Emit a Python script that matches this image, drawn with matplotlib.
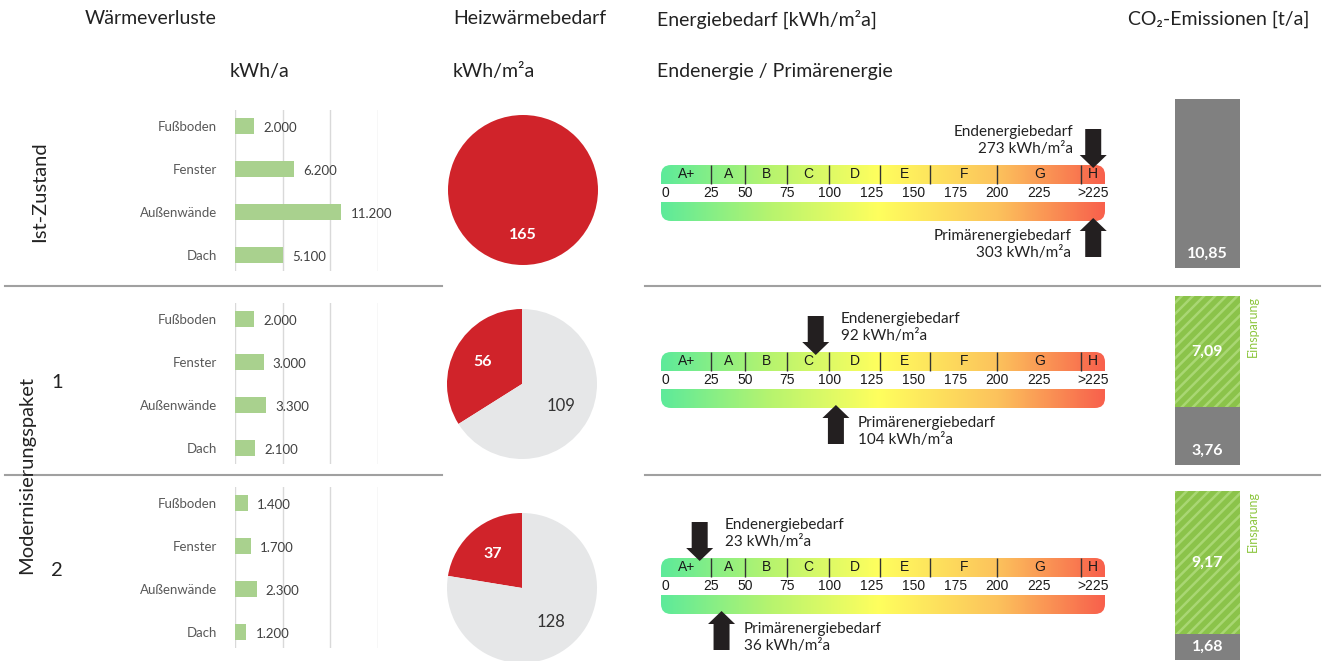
import numpy as np
import matplotlib
matplotlib.use('Agg')
import matplotlib.pyplot as plt
from matplotlib.colors import LinearSegmentedColormap
from matplotlib.patches import FancyBboxPatch, Rectangle

plt.rcParams['font.family'] = ['Lato', 'DejaVu Sans']
plt.rcParams['hatch.linewidth'] = 1.8

# ---- data ----
categories = ['Fußboden', 'Fenster', 'Außenwände', 'Dach']
loss_ist = [2000, 6200, 11200, 5100]
loss_p1 = [2000, 3000, 3300, 2100]
loss_p2 = [1400, 1700, 2300, 1200]

heat_ref = 165
heat_demand = [165, 56, 37]

end_energy = [273, 92, 23]
primary_energy = [303, 104, 36]

class_names = ['A+', 'A', 'B', 'C', 'D', 'E', 'F', 'G', 'H']
class_bounds = [0, 30, 50, 75, 100, 130, 160, 200, 250, 264]
scale_tick_at = [0, 30, 50, 75, 100, 125, 150, 175, 200, 225, 257]
scale_tick_lbl = ['0', '25', '50', '75', '100', '125', '150', '175', '200', '225', '>225']

co2_remaining = [10.85, 3.76, 1.68]
co2_saving = [0, 7.09, 9.17]

W, H = 1327, 661
fig = plt.figure(figsize=(W / 100, H / 100), dpi=100)


def px_axes(left, top, width, height):
    return fig.add_axes([left / W, 1 - (top + height) / H, width / W, height / H])


def de(v, dec=0):
    s = f'{v:,.{dec}f}'
    return s.replace(',', 'X').replace('.', ',').replace('X', '.')


# overlay for headings and separators
bg = px_axes(0, 0, W, H)
bg.set_xlim(0, W)
bg.set_ylim(H, 0)
bg.axis('off')

txt = '#222222'
hs = 14
bg.text(85, 19, 'Wärmeverluste', fontsize=hs, color=txt, va='center')
bg.text(230, 72, 'kWh/a', fontsize=hs, color=txt, va='center')
bg.text(453, 19, 'Heizwärmebedarf', fontsize=hs, color=txt, va='center')
bg.text(453, 72, 'kWh/m²a', fontsize=hs, color=txt, va='center')
bg.text(657, 19, 'Energiebedarf [kWh/m²a]', fontsize=hs, color=txt, va='center')
bg.text(657, 72, 'Endenergie / Primärenergie', fontsize=hs, color=txt, va='center')
bg.text(1128, 19, 'CO₂-Emissionen [t/a]', fontsize=hs, color=txt, va='center')

bg.text(40, 192, 'Ist-Zustand', fontsize=14.5, color=txt, rotation=90, ha='center', va='center')
bg.text(27, 475, 'Modernisierungspaket', fontsize=14.5, color=txt, rotation=90, ha='center', va='center')
bg.text(57, 382, '1', fontsize=14.5, color=txt, ha='center', va='center')
bg.text(57, 571, '2', fontsize=14.5, color=txt, ha='center', va='center')

for y in [286, 475]:
    bg.plot([5, 442], [y, y], color='#A0A0A0', lw=1.5)
    bg.plot([645, 1320], [y, y], color='#A0A0A0', lw=1.5)

# ---- heat losses (bar charts) ----
loss_rows = [loss_ist, loss_p1, loss_p2]
grid_tops = [110, 303, 487]
for vals, top in zip(loss_rows, grid_tops):
    ax = px_axes(235, top, 143, 161)
    y = np.arange(len(categories))
    ax.barh(y, vals, height=0.35, color='#A9D18E')
    ax.set_xlim(0, 15050)
    ax.set_ylim(3.372, -0.372)
    ax.set_xticks([0, 5000, 10000, 15000])
    ax.xaxis.grid(True, color='#D9D9D9', lw=1)
    ax.set_axisbelow(True)
    ax.tick_params(axis='x', length=0, labelbottom=False)
    ax.set_yticks(y, categories)
    ax.tick_params(axis='y', length=0, pad=13, labelsize=9.5, labelcolor='#595959')
    for s in ax.spines.values():
        s.set_visible(False)
    ax.patch.set_alpha(0)
    for i, v in enumerate(vals):
        ax.annotate(de(v), (v, i), xytext=(6.5, -1.5), textcoords='offset points',
                    va='center', fontsize=9.5, color='#404040')

# ---- heat demand (pies) ----
pie_centers = [(523, 190), (522, 384), (522, 588)]
for hd, (cx, cy) in zip(heat_demand, pie_centers):
    ax = px_axes(cx - 75, cy - 75, 150, 150)
    vals = [v for v in [hd, heat_ref - hd] if v > 0]
    tot = sum(vals)
    wedges, texts, autotexts = ax.pie(vals, colors=['#D0232A', '#E6E7E8'], startangle=90,
                                      counterclock=True, pctdistance=0.6,
                                      autopct=lambda p: f'{p * tot / 100:.0f}')
    ax.set_xlim(-1, 1)
    ax.set_ylim(-1, 1)
    autotexts[0].set_color('white')
    autotexts[0].set_fontweight('bold')
    autotexts[0].set_fontsize(11.5)
    for t in autotexts[1:]:
        t.set_color('#333333')
        t.set_fontsize(12)

# ---- energy scale ----
cmap = LinearSegmentedColormap.from_list(
    'eff', [(0, '#5DEA9A'), (0.25, '#B8F46E'), (0.49, '#FFFF5E'),
            (0.76, '#FCC25C'), (1, '#F8604C')])
scale_max = class_bounds[-1]
h_pos = (class_bounds[-2] + class_bounds[-1]) / 2
band_tops = [165, 352, 558]
band_w, band_h = 444, 56
ux = scale_max / band_w   # data units per px in x
uy = 3 / band_h           # data units per px in y
arrow_c = '#231F20'

for row, top in enumerate(band_tops):
    ax = px_axes(661, top, band_w, band_h)
    grad = np.linspace(0, 1, 256).reshape(1, -1)
    im = ax.imshow(grad, cmap=cmap, extent=[0, scale_max, 0, 3], aspect='auto')
    clip = FancyBboxPatch((0, 0), scale_max, 3, boxstyle='round,pad=0,rounding_size=%f' % (10 * ux),
                          mutation_aspect=uy / ux, transform=ax.transData,
                          facecolor='none', edgecolor='none')
    ax.add_patch(clip)
    im.set_clip_path(clip)
    ax.add_patch(Rectangle((0, 1), scale_max, 1, facecolor='white', edgecolor='none'))
    ax.vlines(class_bounds[1:-1], 2, 3, color='#333333', lw=1)
    for i, c in enumerate(class_names):
        ax.text((class_bounds[i] + class_bounds[i + 1]) / 2, 2.5, c, ha='center', va='center',
                fontsize=10, family='Liberation Sans', color='#1A1A1A')
    for pos, lbl in zip(scale_tick_at, scale_tick_lbl):
        ha = 'left' if pos == 0 else 'center'
        ax.text(pos, 1.5, lbl, ha=ha, va='center', fontsize=10,
                family='Liberation Sans', color='#1A1A1A')
    ax.set_xlim(0, scale_max)
    ax.set_ylim(0, 3)
    ax.axis('off')

    ee = min(end_energy[row], h_pos)
    pe = min(primary_energy[row], h_pos)
    alen = 39 * uy
    ax.arrow(ee, 3 - 3 * uy + alen, 0, -alen, width=16 * ux, head_width=27 * ux,
             head_length=13 * uy, length_includes_head=True, color=arrow_c, lw=0, clip_on=False)
    ax.arrow(pe, 3 * uy - alen, 0, alen, width=16 * ux, head_width=27 * ux,
             head_length=13 * uy, length_includes_head=True, color=arrow_c, lw=0, clip_on=False)

    lab_e = f'Endenergiebedarf\n{end_energy[row]} kWh/m²a'
    lab_p = f'Primärenergiebedarf\n{primary_energy[row]} kWh/m²a'
    if ee > 200:
        ax.text(ee - 20 * ux, 3 + 24.5 * uy, lab_e, ha='right', va='center', fontsize=11,
                color=txt, linespacing=1.25)
        ax.text(pe - 22 * ux, -23.5 * uy, lab_p, ha='right', va='center', fontsize=11,
                color=txt, linespacing=1.25)
    else:
        ax.text(ee + 25 * ux, 3 + 24.5 * uy, lab_e, ha='left', va='center', fontsize=11,
                color=txt, linespacing=1.25)
        ax.text(pe + 22 * ux, -23.5 * uy, lab_p, ha='left', va='center', fontsize=11,
                color=txt, linespacing=1.25)

# ---- CO2 emissions ----
co2_base = [268, 465, 660]
t_px = 15.55
for rem, sav, base in zip(co2_remaining, co2_saving, co2_base):
    hgt = 12 * t_px
    ax = px_axes(1175, base - hgt, 65, hgt)
    ax.bar(0.5, rem, width=1, color='#808080')
    ax.text(0.5, min(0.9, rem / 2), de(rem, 2), ha='center', va='center', color='white',
            fontsize=11.5, fontweight='bold')
    if sav > 0:
        ax.bar(0.5, sav, bottom=rem, width=1, color='#8BC34A', edgecolor='#A9D773',
               hatch='///', lw=0)
        ax.text(0.5, rem + sav / 2, de(sav, 2), ha='center', va='center', color='white',
                fontsize=11.5, fontweight='bold')
        ax.text(1.2, rem + sav, 'Einsparung', rotation=90, ha='center', va='top',
                color='#8DC63F', fontsize=9, clip_on=False)
    ax.set_xlim(0, 1)
    ax.set_ylim(0, 12)
    ax.axis('off')

fig.savefig('out.png', dpi=100)
